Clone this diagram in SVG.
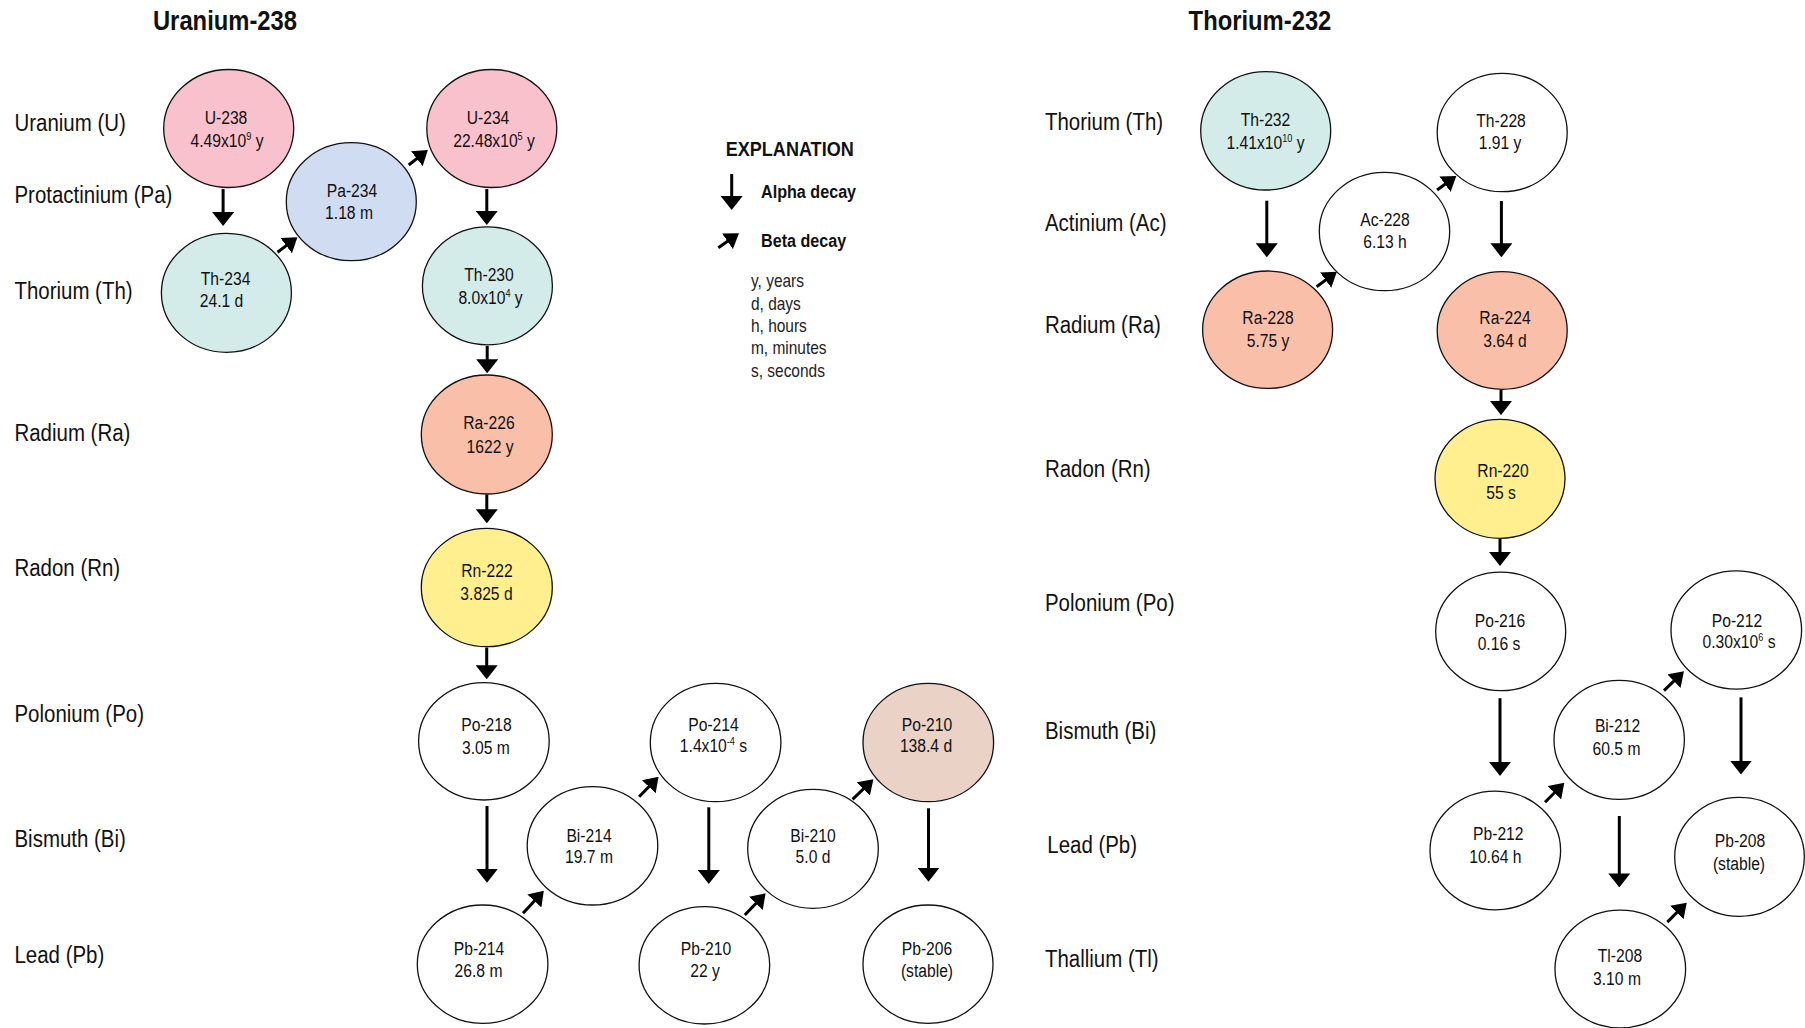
<svg xmlns="http://www.w3.org/2000/svg" width="1805" height="1028" viewBox="0 0 1805 1028">
<style>
text{font-family:"Liberation Sans",Arial,sans-serif;fill:#111;transform-box:fill-box}
.title{font-size:28px;font-weight:bold;text-anchor:middle;transform-origin:50% 50%;transform:scaleX(0.85)}
.lab{font-size:23.5px;transform-origin:0 50%;transform:scaleX(0.87)}
.nt{font-size:18px;text-anchor:middle;transform-origin:50% 50%;transform:scaleX(0.87)}
.sup{font-size:10.5px}
.exp{font-size:21px;font-weight:bold;transform-origin:0 50%;transform:scaleX(0.86)}
.leg{font-size:19px;font-weight:bold;transform-origin:0 50%;transform:scaleX(0.85)}
.unit{font-size:18px;fill:#222;transform-origin:0 50%;transform:scaleX(0.86)}
ellipse{stroke:#111;stroke-width:1.3}
.pink{fill:#F8C1CC}.blue{fill:#CFDCF2}.teal{fill:#D3ECEA}.salmon{fill:#FABFA9}.yellow{fill:#FFEF8F}.beige{fill:#EBD2C7}.white{fill:#fff}
.a{stroke:#000;stroke-width:3;fill:none;marker-end:url(#ah)}
.b{stroke:#000;stroke-width:3;fill:none;marker-end:url(#bh)}
</style>
<defs>
<marker id="ah" markerUnits="userSpaceOnUse" viewBox="0 0 14 22" markerWidth="14" markerHeight="22" refX="11" refY="11" orient="auto"><path d="M0,0 L14,11 L0,22 z" fill="#000"/></marker>
<marker id="bh" markerUnits="userSpaceOnUse" viewBox="0 0 14 19" markerWidth="14" markerHeight="19" refX="11" refY="9.5" orient="auto"><path d="M0,0 L14,9.5 L0,19 z" fill="#000"/></marker>
</defs>
<rect width="1805" height="1028" fill="#fff"/>

<g id="titles">
<text class="title" x="225" y="30">Uranium-238</text>
<text class="title" x="1260" y="30">Thorium-232</text>
</g>

<g id="row-labels-u">
<text class="lab" x="14.5" y="131">Uranium (U)</text>
<text class="lab" x="14.5" y="203.3">Protactinium (Pa)</text>
<text class="lab" x="14.5" y="299">Thorium (Th)</text>
<text class="lab" x="14.5" y="440.7">Radium (Ra)</text>
<text class="lab" x="14.5" y="575.7">Radon (Rn)</text>
<text class="lab" x="14.5" y="721.7">Polonium (Po)</text>
<text class="lab" x="14.5" y="847.3">Bismuth (Bi)</text>
<text class="lab" x="14.5" y="963.3">Lead (Pb)</text>
</g>
<g id="row-labels-th">
<text class="lab" x="1045" y="130">Thorium (Th)</text>
<text class="lab" x="1045" y="231">Actinium (Ac)</text>
<text class="lab" x="1045" y="333.3">Radium (Ra)</text>
<text class="lab" x="1045" y="476.7">Radon (Rn)</text>
<text class="lab" x="1045" y="611">Polonium (Po)</text>
<text class="lab" x="1045" y="739">Bismuth (Bi)</text>
<text class="lab" x="1047.3" y="852.7">Lead (Pb)</text>
<text class="lab" x="1045" y="966.7">Thallium (Tl)</text>
</g>

<g id="legend">
<text class="exp" x="725.7" y="156">EXPLANATION</text>
<line class="a" x1="731.7" y1="174" x2="731.7" y2="207"/>
<text class="leg" x="761" y="198.3">Alpha decay</text>
<line class="b" x1="718.3" y1="247.7" x2="736.5" y2="235"/>
<text class="leg" x="761" y="246.7">Beta decay</text>
<text class="unit" x="751" y="287.3">y, years</text>
<text class="unit" x="751" y="310">d, days</text>
<text class="unit" x="751" y="332.3">h, hours</text>
<text class="unit" x="751" y="354">m, minutes</text>
<text class="unit" x="751" y="376.7">s, seconds</text>
</g>

<g id="connectors">
<line class="a" x1="223.1" y1="189" x2="223.1" y2="223"/>
<line class="a" x1="486.8" y1="189" x2="486.8" y2="222"/>
<line class="a" x1="487.2" y1="346" x2="487.2" y2="370.3"/>
<line class="a" x1="486.8" y1="494.5" x2="486.8" y2="520.3"/>
<line class="a" x1="486.7" y1="647.5" x2="486.7" y2="676.3"/>
<line class="a" x1="487" y1="806" x2="487" y2="879.7"/>
<line class="a" x1="708.8" y1="807.3" x2="708.8" y2="881"/>
<line class="a" x1="928.5" y1="808.3" x2="928.5" y2="878.7"/>
<line class="a" x1="1266.8" y1="200.7" x2="1266.8" y2="254.3"/>
<line class="a" x1="1501.4" y1="201" x2="1501.4" y2="254.3"/>
<line class="a" x1="1501" y1="390" x2="1501" y2="412.1"/>
<line class="a" x1="1500" y1="538.5" x2="1500" y2="563"/>
<line class="a" x1="1500" y1="698.2" x2="1500" y2="772.9"/>
<line class="a" x1="1741" y1="697.4" x2="1741" y2="771.6"/>
<line class="a" x1="1619.3" y1="816" x2="1619.3" y2="884.4"/>
<line class="b" x1="277.5" y1="252.3" x2="295" y2="239.1"/>
<line class="b" x1="408.7" y1="165" x2="425.5" y2="151.9"/>
<line class="b" x1="523" y1="913.3" x2="541.8" y2="892.9"/>
<line class="b" x1="639.1" y1="796.7" x2="656.5" y2="778.9"/>
<line class="b" x1="744.8" y1="915" x2="763.5" y2="895.5"/>
<line class="b" x1="852.6" y1="799.3" x2="871.2" y2="781.4"/>
<line class="b" x1="1316.6" y1="286.7" x2="1334.5" y2="273.5"/>
<line class="b" x1="1437.1" y1="190" x2="1453.9" y2="177.8"/>
<line class="b" x1="1545" y1="802.3" x2="1562.2" y2="785"/>
<line class="b" x1="1664" y1="690.7" x2="1681.8" y2="673.4"/>
<line class="b" x1="1667.3" y1="922.1" x2="1684.6" y2="904.8"/>
</g>

<g id="U-238"><ellipse class="pink" cx="228.7" cy="128.5" rx="65" ry="59"/><text class="nt" x="226" y="124">U-238</text><text class="nt" x="227" y="146.7">4.49x10<tspan class="sup" dy="-7">9</tspan><tspan dy="7"> y</tspan></text></g>
<g id="Pa-234"><ellipse class="blue" cx="351.3" cy="201.7" rx="65" ry="59"/><text class="nt" x="352" y="197.3">Pa-234</text><text class="nt" x="349" y="219">1.18 m</text></g>
<g id="U-234"><ellipse class="pink" cx="491.8" cy="128.5" rx="65" ry="59"/><text class="nt" x="488" y="124">U-234</text><text class="nt" x="494" y="146.7">22.48x10<tspan class="sup" dy="-7">5</tspan><tspan dy="7"> y</tspan></text></g>
<g id="Th-234"><ellipse class="teal" cx="226.4" cy="292.8" rx="65" ry="59.5"/><text class="nt" x="225.6" y="285">Th-234</text><text class="nt" x="221.5" y="307.3">24.1 d</text></g>
<g id="Th-230"><ellipse class="teal" cx="487.4" cy="285.8" rx="65" ry="59"/><text class="nt" x="489" y="281">Th-230</text><text class="nt" x="490.5" y="304">8.0x10<tspan class="sup" dy="-7">4</tspan><tspan dy="7"> y</tspan></text></g>
<g id="Ra-226"><ellipse class="salmon" cx="486.8" cy="434.5" rx="65.5" ry="59.5"/><text class="nt" x="489" y="429.3">Ra-226</text><text class="nt" x="490" y="452.7">1622 y</text></g>
<g id="Rn-222"><ellipse class="yellow" cx="486.8" cy="587.5" rx="65.5" ry="59.2"/><text class="nt" x="487" y="577.3">Rn-222</text><text class="nt" x="486.5" y="600">3.825 d</text></g>
<g id="Po-218"><ellipse class="white" cx="483.9" cy="741.3" rx="65.3" ry="58.7"/><text class="nt" x="486.5" y="730.7">Po-218</text><text class="nt" x="486" y="754">3.05 m</text></g>
<g id="Po-214"><ellipse class="white" cx="715.6" cy="742.5" rx="65.3" ry="59.2"/><text class="nt" x="713.5" y="730.7">Po-214</text><text class="nt" x="713.5" y="751.7">1.4x10<tspan class="sup" dy="-7">-4</tspan><tspan dy="7"> s</tspan></text></g>
<g id="Po-210"><ellipse class="beige" cx="928.3" cy="742.5" rx="65.3" ry="59.2"/><text class="nt" x="927" y="730.7">Po-210</text><text class="nt" x="926" y="751.7">138.4 d</text></g>
<g id="Bi-214"><ellipse class="white" cx="592.5" cy="845.8" rx="65.3" ry="59.2"/><text class="nt" x="589" y="841.7">Bi-214</text><text class="nt" x="589" y="863.3">19.7 m</text></g>
<g id="Bi-210"><ellipse class="white" cx="813" cy="848.8" rx="65.3" ry="59.5"/><text class="nt" x="813" y="841.7">Bi-210</text><text class="nt" x="813" y="863.3">5.0 d</text></g>
<g id="Pb-214"><ellipse class="white" cx="482.6" cy="964.2" rx="65.3" ry="59.2"/><text class="nt" x="479" y="955">Pb-214</text><text class="nt" x="478.5" y="976.7">26.8 m</text></g>
<g id="Pb-210"><ellipse class="white" cx="704.4" cy="965.3" rx="65.3" ry="58.7"/><text class="nt" x="706" y="955">Pb-210</text><text class="nt" x="705" y="976.7">22 y</text></g>
<g id="Pb-206"><ellipse class="white" cx="928" cy="964.2" rx="65" ry="59.2"/><text class="nt" x="927" y="955">Pb-206</text><text class="nt" x="927" y="976.7">(stable)</text></g>

<g id="Th-232"><ellipse class="teal" cx="1265.7" cy="130.8" rx="65" ry="59.2"/><text class="nt" x="1265.5" y="126">Th-232</text><text class="nt" x="1265.5" y="149.3">1.41x10<tspan class="sup" dy="-7">10</tspan><tspan dy="7"> y</tspan></text></g>
<g id="Th-228"><ellipse class="white" cx="1502.2" cy="132.5" rx="65" ry="59.2"/><text class="nt" x="1501" y="126.7">Th-228</text><text class="nt" x="1500" y="149.3">1.91 y</text></g>
<g id="Ac-228"><ellipse class="white" cx="1384.5" cy="231.5" rx="65.2" ry="59.2"/><text class="nt" x="1385" y="226">Ac-228</text><text class="nt" x="1385" y="248.3">6.13 h</text></g>
<g id="Ra-228"><ellipse class="salmon" cx="1267.6" cy="329.7" rx="65" ry="58.7"/><text class="nt" x="1268" y="324">Ra-228</text><text class="nt" x="1268" y="347.3">5.75 y</text></g>
<g id="Ra-224"><ellipse class="salmon" cx="1502.2" cy="330.5" rx="65" ry="58.8"/><text class="nt" x="1505" y="324">Ra-224</text><text class="nt" x="1505" y="347.3">3.64 d</text></g>
<g id="Rn-220"><ellipse class="yellow" cx="1500" cy="478.8" rx="65" ry="59.5"/><text class="nt" x="1503" y="477">Rn-220</text><text class="nt" x="1501" y="499">55 s</text></g>
<g id="Po-216"><ellipse class="white" cx="1500.7" cy="631.4" rx="65" ry="59.3"/><text class="nt" x="1500" y="626.7">Po-216</text><text class="nt" x="1499" y="649.8">0.16 s</text></g>
<g id="Po-212"><ellipse class="white" cx="1736.3" cy="630" rx="65.3" ry="59.1"/><text class="nt" x="1737" y="626.7">Po-212</text><text class="nt" x="1739" y="647.8">0.30x10<tspan class="sup" dy="-7">6</tspan><tspan dy="7"> s</tspan></text></g>
<g id="Bi-212"><ellipse class="white" cx="1619.2" cy="739.9" rx="65.2" ry="59.5"/><text class="nt" x="1617.5" y="732.5">Bi-212</text><text class="nt" x="1616.5" y="755.2">60.5 m</text></g>
<g id="Pb-212"><ellipse class="white" cx="1495.3" cy="850.5" rx="65.3" ry="59.3"/><text class="nt" x="1498.3" y="840">Pb-212</text><text class="nt" x="1495.3" y="863.5">10.64 h</text></g>
<g id="Pb-208"><ellipse class="white" cx="1739.5" cy="856.9" rx="64.8" ry="59.5"/><text class="nt" x="1740" y="847">Pb-208</text><text class="nt" x="1739" y="869.7">(stable)</text></g>
<g id="Tl-208"><ellipse class="white" cx="1620.3" cy="969" rx="65.3" ry="58.9"/><text class="nt" x="1620" y="962">Tl-208</text><text class="nt" x="1617" y="985.4">3.10 m</text></g>
</svg>
